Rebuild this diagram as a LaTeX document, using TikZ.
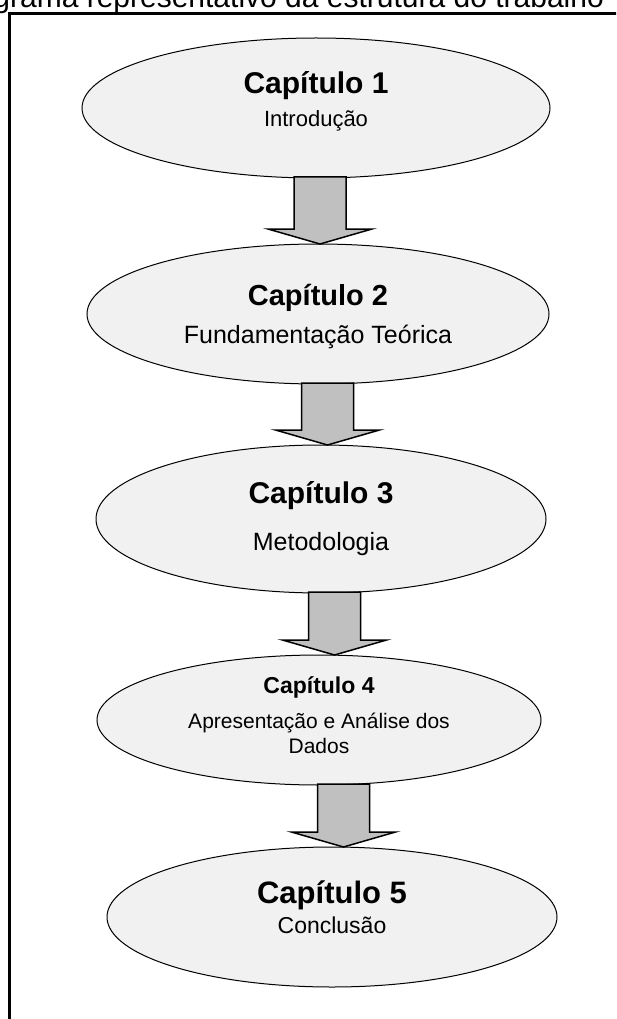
\documentclass[tikz,border=0pt]{standalone}
\usepackage{fontspec}
\setmainfont{Liberation Sans}
\usetikzlibrary{shapes.geometric,calc}

\definecolor{capGray}{RGB}{241,241,241}
\definecolor{arrowGray}{RGB}{192,192,192}

\begin{document}
\begin{tikzpicture}[x=1pt, y=-1pt,
  chap/.style={ellipse, draw, line width=1pt, fill=capGray, inner sep=0pt,
               outer sep=0pt, align=center, text depth=0pt},
  bigarrow/.style={draw, line width=1.5pt, fill=arrowGray, line join=miter}
]
  \useasboundingbox (0,0) rectangle (616,1019);
  \clip (0,0) rectangle (616,1019);

  % frame and (cut) caption
  \node[anchor=base east, inner sep=0pt, font=\fontsize{30}{36}\selectfont]
    (caption) at (604,8) {grama representativo da estrutura do trabalho};
  \draw[line width=2.5pt] (9.5,1030) |- (630,13.5);

  % chapters
  \node[chap, minimum width=468pt, minimum height=140pt, text height=38pt,
        font=\fontsize{22}{33}\selectfont]
    (c1) at (316,108)
    {\fontsize{30}{33}\selectfont\bfseries Capítulo 1\\Introdução};
  \node[chap, minimum width=462pt, minimum height=140pt, text height=58pt,
        font=\fontsize{25}{38}\selectfont]
    (c2) at (318,314)
    {\fontsize{29}{38}\selectfont\bfseries Capítulo 2\\Fundamentação Teórica};
  \node[chap, minimum width=450pt, minimum height=148pt, text height=62pt,
        font=\fontsize{25}{47}\selectfont]
    (c3) at (321,519)
    {\fontsize{30}{47}\selectfont\bfseries Capítulo 3\\Metodologia};
  \node[chap, minimum width=444pt, minimum height=130pt, text height=66pt,
        font=\fontsize{21}{25}\selectfont]
    (c4) at (319,720)
    {\fontsize{23}{25}\selectfont\bfseries Capítulo 4\\[10pt]
     Apresentação e Análise dos\\Dados};
  \node[chap, minimum width=450pt, minimum height=140pt, text height=32pt,
        font=\fontsize{23}{30}\selectfont]
    (c5) at (332,917)
    {\fontsize{31}{30}\selectfont\bfseries Capítulo 5\\Conclusão};

  % block arrows between chapters
  \foreach \a/\b/\dx in {c1/c2/4pt, c2/c3/9.5pt, c3/c4/13.5pt, c4/c5/24.5pt}
    \draw[bigarrow] let \p1=(\a.south), \p2=(\b.north) in
      (\x1+\dx-26pt,\y1+1pt) -- (\x1+\dx-26pt,\y2+15pt)
      -- (\x1+\dx-52pt,\y2+15pt) -- (\x1+\dx,\y2)
      -- (\x1+\dx+52pt,\y2+15pt) -- (\x1+\dx+26pt,\y2+15pt)
      -- (\x1+\dx+26pt,\y1+1pt) -- cycle;
\end{tikzpicture}
\end{document}
